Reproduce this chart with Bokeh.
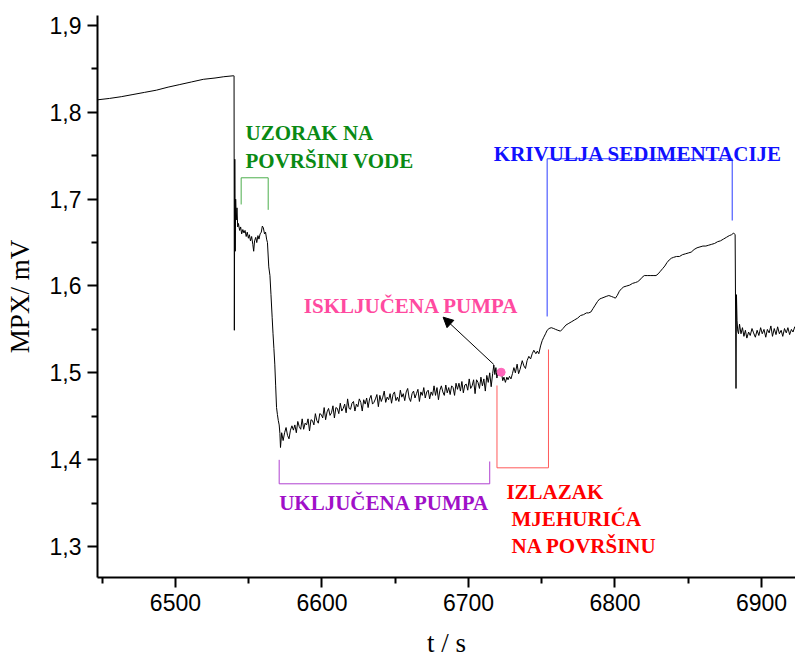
from bokeh.plotting import figure
from bokeh.models import (Range1d, FixedTicker, CustomJSTickFormatter, Arrow,
                          NormalHead, ColumnDataSource)
from bokeh.embed import file_html
from bokeh.resources import INLINE
from bokeh.core.properties import value

# ---------------- data ----------------
# before the sample
t_base = [6446.8, 6455, 6463, 6471, 6479, 6487, 6495, 6503, 6511, 6519, 6527, 6533, 6539.6]
v_base = [1.8144, 1.816, 1.818, 1.8205, 1.823, 1.8255, 1.829, 1.832, 1.835, 1.838, 1.8395, 1.841, 1.8421]

# sample on the water surface
t_sample = [6540.0, 6540.2, 6540.5, 6540.8, 6541.1, 6541.5, 6542.0, 6542.5, 6543.0, 6543.8,
            6544.5, 6545.2, 6546.0, 6546.8, 6547.5, 6548.3, 6549.0, 6549.8, 6550.5, 6551.2,
            6552.0, 6552.8, 6553.4, 6554.0, 6554.8, 6555.5, 6556.3, 6557.0, 6557.8, 6558.6,
            6559.3, 6560.0, 6560.8, 6561.5, 6562.2, 6562.8, 6563.7, 6564.5, 6565.2, 6566.0,
            6566.6, 6567.2, 6567.8, 6568.4, 6569.0, 6569.6, 6570.2, 6570.8, 6571.3, 6571.7]
v_sample = [1.842, 1.549, 1.746, 1.640, 1.700, 1.676, 1.690, 1.668, 1.672, 1.664,
            1.668, 1.660, 1.665, 1.661, 1.664, 1.657, 1.662, 1.655, 1.659, 1.652,
            1.657, 1.648, 1.640, 1.652, 1.656, 1.650, 1.658, 1.654, 1.660, 1.662,
            1.669, 1.667, 1.660, 1.662, 1.654, 1.650, 1.622, 1.612, 1.590, 1.564,
            1.545, 1.528, 1.510, 1.485, 1.460, 1.452, 1.445, 1.440, 1.430, 1.414]

# pump switched on
t_pump = [6572.5, 6573.5, 6574.5, 6575.5, 6576.5, 6577.5, 6578.5, 6579.5, 6580.5, 6581.5,
          6582.5, 6583.5, 6584.5, 6585.5, 6586.5, 6587.5, 6588.5, 6589.5, 6590.5, 6591.5,
          6592.5, 6593.5, 6594.5, 6595.5, 6596.5, 6597.5, 6598.5, 6599.5, 6600.5, 6601.5,
          6602.5, 6603.5, 6604.5, 6605.5, 6606.5, 6607.5, 6608.5, 6609.5, 6610.5, 6611.5,
          6612.5, 6613.5, 6614.5, 6615.5, 6616.5, 6617.5, 6618.5, 6619.5, 6620.5, 6621.5,
          6622.5, 6623.5, 6624.5, 6625.5, 6626.5, 6627.5, 6628.5, 6629.5, 6630.5, 6631.5,
          6632.5, 6633.5, 6634.5, 6635.5, 6636.5, 6637.5, 6638.5, 6639.5, 6640.5, 6641.5,
          6642.5, 6643.5, 6644.5, 6645.5, 6646.5, 6647.5, 6648.5, 6649.5, 6650.5, 6651.5,
          6652.5, 6653.5, 6654.5, 6655.5, 6656.5, 6657.5, 6658.5, 6659.5, 6660.5, 6661.5,
          6662.5, 6663.5, 6664.5, 6665.5, 6666.5, 6667.5, 6668.5, 6669.5, 6670.5, 6671.5,
          6672.5, 6673.5, 6674.5, 6675.5, 6676.5, 6677.5, 6678.5, 6679.5, 6680.5, 6681.5,
          6682.5, 6683.5, 6684.5, 6685.5, 6686.5, 6687.5, 6688.5, 6689.5, 6690.5, 6691.5,
          6692.5, 6693.5, 6694.5, 6695.5, 6696.5, 6697.5, 6698.5, 6699.5, 6700.5, 6701.5,
          6702.5, 6703.5, 6704.5, 6705.5, 6706.5, 6707.5, 6708.5, 6709.5, 6710.5, 6711.5,
          6712.5, 6713.5, 6714.5, 6715.5, 6716.5]
v_pump = [1.431, 1.422, 1.431, 1.437, 1.428, 1.424, 1.434, 1.439, 1.434, 1.440,
          1.431, 1.444, 1.438, 1.435, 1.447, 1.435, 1.442, 1.440, 1.447, 1.433,
          1.446, 1.445, 1.440, 1.453, 1.445, 1.442, 1.453, 1.452, 1.448, 1.460,
          1.446, 1.455, 1.459, 1.451, 1.454, 1.462, 1.448, 1.460, 1.459, 1.453,
          1.465, 1.456, 1.459, 1.464, 1.454, 1.470, 1.459, 1.458, 1.465, 1.467,
          1.456, 1.464, 1.461, 1.470, 1.466, 1.456, 1.469, 1.464, 1.471, 1.460,
          1.470, 1.474, 1.464, 1.466, 1.470, 1.475, 1.461, 1.474, 1.467, 1.472,
          1.479, 1.466, 1.472, 1.469, 1.476, 1.465, 1.475, 1.478, 1.468, 1.472,
          1.467, 1.480, 1.472, 1.476, 1.468, 1.478, 1.482, 1.471, 1.467, 1.476,
          1.479, 1.471, 1.476, 1.481, 1.467, 1.478, 1.474, 1.483, 1.471, 1.478,
          1.480, 1.470, 1.478, 1.474, 1.485, 1.474, 1.483, 1.469, 1.480, 1.485,
          1.478, 1.474, 1.486, 1.477, 1.483, 1.475, 1.485, 1.483, 1.474, 1.488,
          1.481, 1.488, 1.479, 1.490, 1.477, 1.486, 1.487, 1.480, 1.493, 1.482,
          1.485, 1.492, 1.476, 1.492, 1.489, 1.482, 1.495, 1.485, 1.493, 1.479,
          1.497, 1.489, 1.500, 1.484, 1.499]

# pump switched off, bubbles rise, sedimentation curve
t_sed = [6717.3, 6718.0, 6718.7, 6719.4, 6720.2, 6721.0, 6721.8, 6722.6, 6723.4, 6724.2,
         6725.2, 6726.2, 6727.0, 6728.0, 6729.0, 6730.0, 6731.0, 6732.0, 6733.2, 6734.2,
         6735.2, 6736.7, 6737.8, 6738.9, 6740.0, 6741.2, 6742.4, 6743.5, 6744.6, 6746.0,
         6747.0, 6748.0, 6749.2, 6750.3, 6751.4, 6752.6, 6753.7, 6755.0, 6756.5, 6758.2,
         6759.5, 6761.0, 6762.8, 6764.5, 6766.5, 6768.5, 6770.5, 6772.5, 6774.5, 6776.5,
         6778.5, 6780.5, 6782.0, 6783.5, 6785.0, 6786.5, 6788.0, 6789.5, 6791.0, 6792.5,
         6794.0, 6795.8, 6797.5, 6799.0, 6800.3, 6801.5, 6803.0, 6804.5, 6806.0, 6808.0,
         6810.0, 6812.0, 6814.0, 6815.5, 6817.0, 6818.5, 6820.0, 6822.0, 6824.0, 6826.0,
         6828.0, 6829.5, 6831.0, 6832.5, 6834.0, 6835.5, 6837.0, 6838.5, 6840.0, 6842.0,
         6844.0, 6846.0, 6848.0, 6850.0, 6852.0, 6854.0, 6856.0, 6858.0, 6860.0, 6862.0,
         6864.0, 6866.0, 6868.0, 6870.0, 6872.0, 6874.0, 6876.0, 6878.0, 6879.5, 6881.0,
         6882.0]
v_sed = [1.509, 1.498, 1.506, 1.494, 1.503, 1.497, 1.503, 1.499, 1.491, 1.495,
         1.489, 1.495, 1.492, 1.496, 1.493, 1.499, 1.506, 1.500, 1.510, 1.499,
         1.504, 1.514, 1.508, 1.505, 1.514, 1.519, 1.516, 1.522, 1.526, 1.522,
         1.525, 1.522, 1.531, 1.537, 1.541, 1.545, 1.549, 1.551, 1.552, 1.551,
         1.550, 1.549, 1.548, 1.551, 1.555, 1.557, 1.559, 1.561, 1.563, 1.566,
         1.567, 1.569, 1.569, 1.570, 1.574, 1.578, 1.582, 1.585, 1.586, 1.587,
         1.588, 1.589, 1.588, 1.587, 1.586, 1.589, 1.594, 1.597, 1.599, 1.600,
         1.601, 1.603, 1.604, 1.605, 1.607, 1.610, 1.612, 1.612, 1.612, 1.612,
         1.612, 1.614, 1.617, 1.620, 1.623, 1.627, 1.630, 1.632, 1.633, 1.634,
         1.634, 1.636, 1.637, 1.638, 1.639, 1.642, 1.644, 1.645, 1.646, 1.646,
         1.647, 1.648, 1.649, 1.651, 1.652, 1.654, 1.656, 1.658, 1.659, 1.661,
         1.659]

# sample removed, final level
t_end = [6882.6, 6882.9, 6883.3, 6883.8, 6884.3, 6885.0, 6886.0, 6887.0, 6888.0, 6889.0,
         6890.0, 6891.2, 6892.3, 6893.5, 6894.6, 6895.8, 6897.0, 6898.2, 6899.4, 6900.5,
         6901.7, 6902.9, 6904.0, 6905.2, 6906.4, 6907.5, 6908.7, 6909.9, 6911.0, 6912.2,
         6913.4, 6914.5, 6915.7, 6916.9, 6918.0, 6919.2, 6920.4, 6921.5, 6922.7, 6923.2]
v_end = [1.482, 1.590, 1.560, 1.548, 1.545, 1.556, 1.545, 1.552, 1.542, 1.549,
         1.540, 1.547, 1.543, 1.551, 1.546, 1.541, 1.549, 1.543, 1.552, 1.545,
         1.550, 1.541, 1.550, 1.546, 1.554, 1.542, 1.551, 1.544, 1.553, 1.545,
         1.549, 1.542, 1.551, 1.546, 1.552, 1.544, 1.550, 1.547, 1.553, 1.551]

t_all = t_base + t_sample + t_pump + t_sed + t_end
v_all = v_base + v_sample + v_pump + v_sed + v_end

# tick positions and labels
x_ticks = [6500, 6600, 6700, 6800, 6900]
x_minor = [6450, 6550, 6650, 6750, 6850]
y_ticks = [1.3, 1.4, 1.5, 1.6, 1.7, 1.8, 1.9]
y_tick_labels = ["1,3", "1,4", "1,5", "1,6", "1,7", "1,8", "1,9"]
y_minor = [1.35, 1.45, 1.55, 1.65, 1.75, 1.85]

# annotation texts (data positions of left end / baseline)
ann_text = ["UZORAK NA", "POVRŠINI VODE", "KRIVULJA SEDIMENTACIJE", "ISKLJUČENA PUMPA",
            "UKLJUČENA PUMPA", "IZLAZAK", "MJEHURIĆA", "NA POVRŠINU"]
ann_x = [6547.8, 6547.8, 6717.3, 6587.6, 6570.8, 6725.9, 6729.4, 6729.4]
ann_y = [1.776, 1.7445, 1.7522, 1.5775, 1.3498, 1.3625, 1.3319, 1.3011]
ann_color = ["#0a8a14", "#0a8a14", "#1010ff", "#ff4aa0", "#a010c8", "#ff0000", "#ff0000", "#ff0000"]

# brackets
green_bx = [6544.85, 6544.85, 6563.3, 6563.3]
green_by = [1.6939, 1.7246, 1.7246, 1.6877]
purple_bx = [6570.8, 6570.8, 6714.5, 6714.5]
purple_by = [1.3998, 1.3722, 1.3722, 1.3979]
blue_bx = [6753.7, 6753.7, 6880.0, 6880.0]
blue_by = [1.5649, 1.7465, 1.7465, 1.6754]
red_bx = [6719.45, 6719.45, 6754.6, 6754.6]
red_by = [1.4854, 1.3906, 1.3906, 1.5269]

# arrow and pump-off marker
arrow_start = (6717.3, 1.5096)
arrow_end = (6682.7, 1.5641)
dot_x = [6722.3]
dot_y = [1.5007]

# ---------------- figure ----------------
p = figure(width=795, height=661,
           x_range=Range1d(6446.8, 6923.2), y_range=Range1d(1.2643, 1.9115),
           output_backend="svg", toolbar_location=None,
           min_border_left=97, min_border_right=0, min_border_top=15, min_border_bottom=84)
p.outline_line_color = None
p.xgrid.visible = False
p.ygrid.visible = False
p.background_fill_color = "white"
p.border_fill_color = "white"

p.line(t_all, v_all, line_color="black", line_width=1)

p.line(green_bx, green_by, line_color="#4cae4c", line_width=1)
p.line(purple_bx, purple_by, line_color="#b040d0", line_width=1)
p.line(blue_bx, blue_by, line_color="#2a3cff", line_width=1)
p.line(red_bx, red_by, line_color="#ff5a5a", line_width=1)

p.add_layout(Arrow(end=NormalHead(size=10, fill_color="black", line_color="black", line_width=1),
                   x_start=arrow_start[0], y_start=arrow_start[1],
                   x_end=arrow_end[0], y_end=arrow_end[1],
                   line_color="black", line_width=1))

p.scatter(dot_x, dot_y, size=8, fill_color="#ff66bb", line_color="#ff66bb")

src = ColumnDataSource(dict(x=ann_x, y=ann_y, text=ann_text, color=ann_color))
p.text(x="x", y="y", text="text", text_color="color", source=src,
       text_font=value("Liberation Serif"), text_font_style="bold",
       text_font_size="21px", text_align="left", text_baseline="alphabetic")

# axes
for ax in (p.xaxis, p.yaxis):
    ax.axis_line_color = "black"
    ax.axis_line_width = 2
    ax.major_tick_line_color = "black"
    ax.major_tick_line_width = 2
    ax.minor_tick_line_color = "black"
    ax.minor_tick_line_width = 2
    ax.major_tick_in = 0
    ax.major_tick_out = 10
    ax.minor_tick_in = 0
    ax.minor_tick_out = 6
    ax.major_label_text_font = "Liberation Sans"
    ax.major_label_text_font_size = "23px"
    ax.major_label_text_color = "black"
    ax.axis_label_text_font = "Liberation Serif"
    ax.axis_label_text_font_size = "27px"
    ax.axis_label_text_font_style = "normal"
    ax.axis_label_text_color = "black"
    ax.major_label_standoff = 6

p.xaxis.ticker = FixedTicker(ticks=x_ticks, minor_ticks=x_minor)
p.yaxis.ticker = FixedTicker(ticks=y_ticks, minor_ticks=y_minor)
p.yaxis.formatter = CustomJSTickFormatter(args=dict(tvals=y_ticks, tlabels=y_tick_labels), code="""
let best = 0;
for (let i = 1; i < tvals.length; i++) {
  if (Math.abs(tvals[i] - tick) < Math.abs(tvals[best] - tick)) best = i;
}
return tlabels[best];
""")
p.yaxis.axis_label = "MPX/ mV"
p.yaxis.axis_label_standoff = 12
p.xaxis.axis_label = "t / s"
p.xaxis.axis_label_standoff = 14

open("out.html", "w").write(file_html(p, INLINE))
